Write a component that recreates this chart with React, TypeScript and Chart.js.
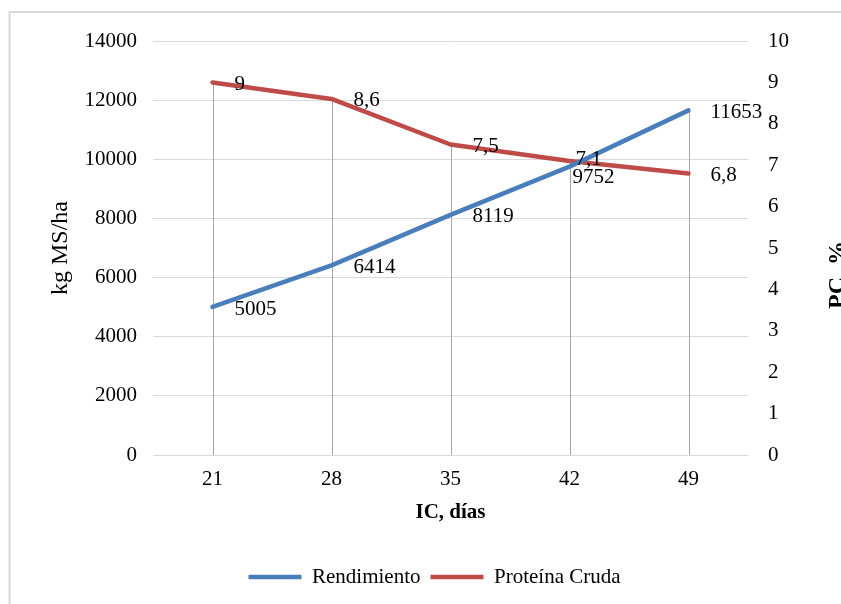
import React, { useEffect, useRef } from "react";
import { Chart, registerables } from "chart.js";

Chart.register(...registerables);

// ---- data ----
const categories = ["21", "28", "35", "42", "49"];
const rendimiento = [5005, 6414, 8119, 9752, 11653];
const proteinaCruda = [9, 8.6, 7.5, 7.1, 6.8];
const leftAxis = { min: 0, max: 14000, step: 2000 };
const rightAxis = { min: 0, max: 10, step: 1 };
const seriesNames = ["Rendimiento", "Proteína Cruda"];
const xTitle = "IC, días";
const yTitle = "kg MS/ha";
const y1Title = "PC, %";

// ---- style ----
const BLUE = "#4a7ebb";
const RED = "#be4b48";
const FAMILY = '"Liberation Serif", "Times New Roman", serif';
const TEXT = "#000000";
const GRID = "#d9d9d9";

// label nudges (dx, dy) per dataset/point, to mimic the hand-placed labels
const labelNudges: Record<string, [number, number]> = {
  "0-3": [-19, 9],
  "1-3": [-16, -4],
};

const framePlugin = {
  id: "frame",
  beforeDraw(chart: any) {
    const ctx = chart.ctx;
    ctx.save();
    ctx.strokeStyle = GRID;
    ctx.lineWidth = 2;
    ctx.beginPath();
    ctx.moveTo(1.5, chart.height + 5);
    ctx.lineTo(1.5, 4);
    ctx.lineTo(chart.width + 5, 4);
    ctx.stroke();
    ctx.restore();
  },
};

const dropLinesPlugin = {
  id: "dropLines",
  beforeDatasetsDraw(chart: any) {
    const ctx = chart.ctx;
    const m0 = chart.getDatasetMeta(0);
    const m1 = chart.getDatasetMeta(1);
    const bottom = chart.chartArea.bottom;
    ctx.save();
    ctx.strokeStyle = "#a6a6a6";
    ctx.lineWidth = 1;
    m0.data.forEach((p: any, i: number) => {
      const q = m1.data[i];
      const top = Math.min(p.y, q.y);
      const x = Math.round(p.x) + 0.5;
      ctx.beginPath();
      ctx.moveTo(x, top);
      ctx.lineTo(x, bottom);
      ctx.stroke();
    });
    ctx.restore();
  },
};

const fmt = (v: number, ds: number) =>
  ds === 0 ? String(v) : String(v).replace(".", ",");

const labelsPlugin = {
  id: "valueLabels",
  afterDatasetsDraw(chart: any) {
    const ctx = chart.ctx;
    ctx.save();
    ctx.font = `21px ${FAMILY}`;
    ctx.fillStyle = TEXT;
    ctx.textAlign = "left";
    ctx.textBaseline = "middle";
    chart.data.datasets.forEach((ds: any, di: number) => {
      const meta = chart.getDatasetMeta(di);
      meta.data.forEach((p: any, i: number) => {
        const n = labelNudges[`${di}-${i}`] || [0, 0];
        ctx.fillText(fmt(ds.data[i], di), p.x + 22 + n[0], p.y + 2 + n[1]);
      });
    });
    ctx.restore();
  },
};

const rightTitlePlugin = {
  id: "rightTitle",
  afterDraw(chart: any) {
    const ctx = chart.ctx;
    const area = chart.chartArea;
    const s = chart.scales.y1;
    ctx.save();
    ctx.translate(s.right + 3, (area.top + area.bottom) / 2 + 27);
    ctx.rotate(-Math.PI / 2);
    ctx.font = `bold 24px ${FAMILY}`;
    ctx.fillStyle = TEXT;
    ctx.textAlign = "center";
    ctx.textBaseline = "alphabetic";
    ctx.fillText(y1Title, 0, 0);
    ctx.restore();
  },
};

export default function App() {
  const ref = useRef<HTMLCanvasElement>(null);

  useEffect(() => {
    const canvas = ref.current;
    if (!canvas) return;
    const tickFont = { family: FAMILY, size: 21 };
    const chart = new Chart(canvas, {
      type: "line",
      data: {
        labels: categories,
        datasets: [
          {
            label: seriesNames[0],
            data: rendimiento,
            yAxisID: "y",
            borderColor: BLUE,
            backgroundColor: BLUE,
            borderWidth: 4.5,
            pointRadius: 0,
            borderCapStyle: "round",
            borderJoinStyle: "round",
            tension: 0,
          },
          {
            label: seriesNames[1],
            data: proteinaCruda,
            yAxisID: "y1",
            borderColor: RED,
            backgroundColor: RED,
            borderWidth: 4.5,
            pointRadius: 0,
            borderCapStyle: "round",
            borderJoinStyle: "round",
            tension: 0,
          },
        ],
      },
      options: {
        responsive: false,
        animation: false,
        devicePixelRatio: 1,
        layout: { padding: { top: 33, left: 20, right: 0, bottom: 6.5 } },
        plugins: {
          legend: {
            position: "bottom",
            labels: {
              usePointStyle: true,
              pointStyle: "line",
              pointStyleWidth: 53,
              font: tickFont,
              color: TEXT,
              padding: 10,
            },
          },
          tooltip: { enabled: false },
        },
        scales: {
          x: {
            offset: true,
            grid: { display: false, drawTicks: false },
            border: { display: false },
            ticks: { font: tickFont, color: TEXT, padding: 12 },
            title: {
              display: true,
              text: xTitle,
              font: { family: FAMILY, size: 21, weight: "bold" },
              color: TEXT,
              padding: { top: 0, bottom: 31 },
            },
            afterFit: (s: any) => {
              s.height = 101.5;
            },
          },
          y: {
            position: "left",
            min: leftAxis.min,
            max: leftAxis.max,
            ticks: {
              stepSize: leftAxis.step,
              font: tickFont,
              color: TEXT,
              padding: 16,
              callback: (v: any) => String(v),
            },
            grid: { color: GRID, lineWidth: 1, drawTicks: false },
            border: { display: false },
            title: {
              display: true,
              text: yTitle,
              font: { family: FAMILY, size: 24 },
              color: TEXT,
              padding: { top: 18, bottom: 0 },
            },
            afterFit: (s: any) => {
              s.width = 125;
            },
          },
          y1: {
            position: "right",
            min: rightAxis.min,
            max: rightAxis.max,
            ticks: {
              stepSize: rightAxis.step,
              font: tickFont,
              color: TEXT,
              padding: 20,
            },
            grid: { display: false, drawTicks: false },
            border: { display: false },
            afterFit: (s: any) => {
              s.width = 93;
            },
          },
        },
      },
      plugins: [framePlugin, dropLinesPlugin, labelsPlugin, rightTitlePlugin],
    } as any);
    return () => chart.destroy();
  }, []);

  return (
    <div
      style={{
        position: "fixed",
        left: 8,
        top: 8,
        width: 833,
        height: 596,
        overflow: "hidden",
      }}
    >
      <canvas
        ref={ref}
        width={833}
        height={596}
        style={{ display: "block", width: 833, height: 596 }}
      />
    </div>
  );
}
